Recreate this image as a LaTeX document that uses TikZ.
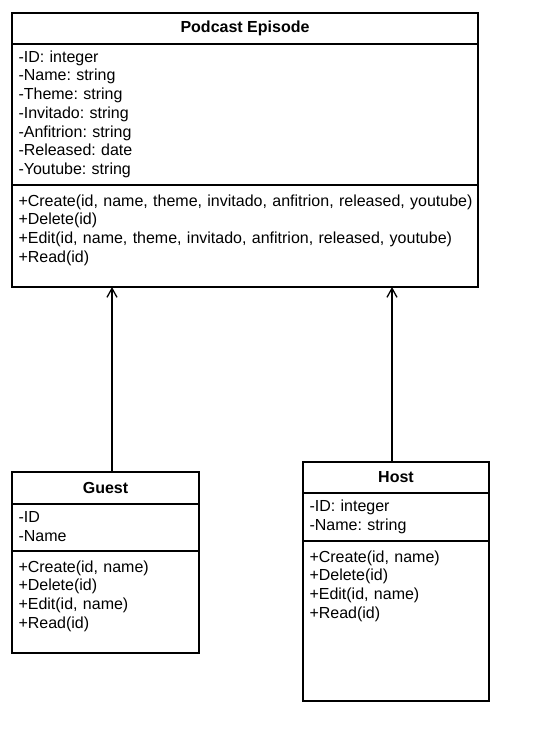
\documentclass[tikz,border=0pt]{standalone}
\usepackage{fontspec}
\setmainfont{Liberation Sans}
\usetikzlibrary{arrows.meta,positioning}
\frenchspacing

\begin{document}
\begin{tikzpicture}[x=1pt,y=1pt,->,>={Straight Barb[length=9pt,width=10pt]},line width=1.3pt,
	font=\fontsize{16}{18.7}\selectfont]
	\tikzset{
		classname/.style={draw,fill=white,font=\fontsize{16}{18.7}\selectfont\bfseries,anchor=north,minimum height=#1,inner sep=0pt,outer sep=0pt},
		members/.style={draw,fill=white,anchor=north,align=left,inner xsep=0pt,inner ysep=0pt,outer sep=0pt,
			execute at begin node={\leftskip=6.5pt\relax},text height=18.3pt,text depth=#1},
		operations/.style={members=#1,text height=21pt}
	}
	\fill[white] (0,0) rectangle (538,-752);
	\useasboundingbox (0,0) rectangle (538,-752);

	% Podcast Episode
	\node[classname=31pt,minimum width=466pt] (episode) at (245,-13) {Podcast Episode};
	\node[members=122.7pt,text width=466pt] (episodeattr) [below=0pt of episode] {-ID: integer\\-Name: string\\-Theme: string\\-Invitado: string\\-Anfitrion: string\\-Released: date\\-Youtube: string};
	\node[operations=81pt,text width=466pt] (episodeops) [below=0pt of episodeattr] {+Create(id, name, theme, invitado, anfitrion, released, youtube)\\+Delete(id)\\+Edit(id, name, theme, invitado, anfitrion, released, youtube)\\+Read(id)};

	% Guest
	\node[classname=32pt,minimum width=187pt] (guest) at (105.5,-472) {Guest};
	\node[members=28.7pt,text width=187pt] (guestattr) [below=0pt of guest] {-ID\\-Name};
	\node[operations=81pt,text width=187pt] (guestops) [below=0pt of guestattr] {+Create(id, name)\\+Delete(id)\\+Edit(id, name)\\+Read(id)};

	% Host
	\node[classname=31pt,minimum width=186pt] (host) at (396,-462) {Host};
	\node[members=29.7pt,text width=186pt] (hostattr) [below=0pt of host] {-ID: integer\\-Name: string};
	\node[operations=139pt,text width=186pt] (hostops) [below=0pt of hostattr] {+Create(id, name)\\+Delete(id)\\+Edit(id, name)\\+Read(id)};

	\draw ([xshift=6.5pt]guest.north) -- ([xshift=6.5pt]guest.north |- episodeops.south);
	\draw ([xshift=-4pt]host.north) -- ([xshift=-4pt]host.north |- episodeops.south);
\end{tikzpicture}
\end{document}
